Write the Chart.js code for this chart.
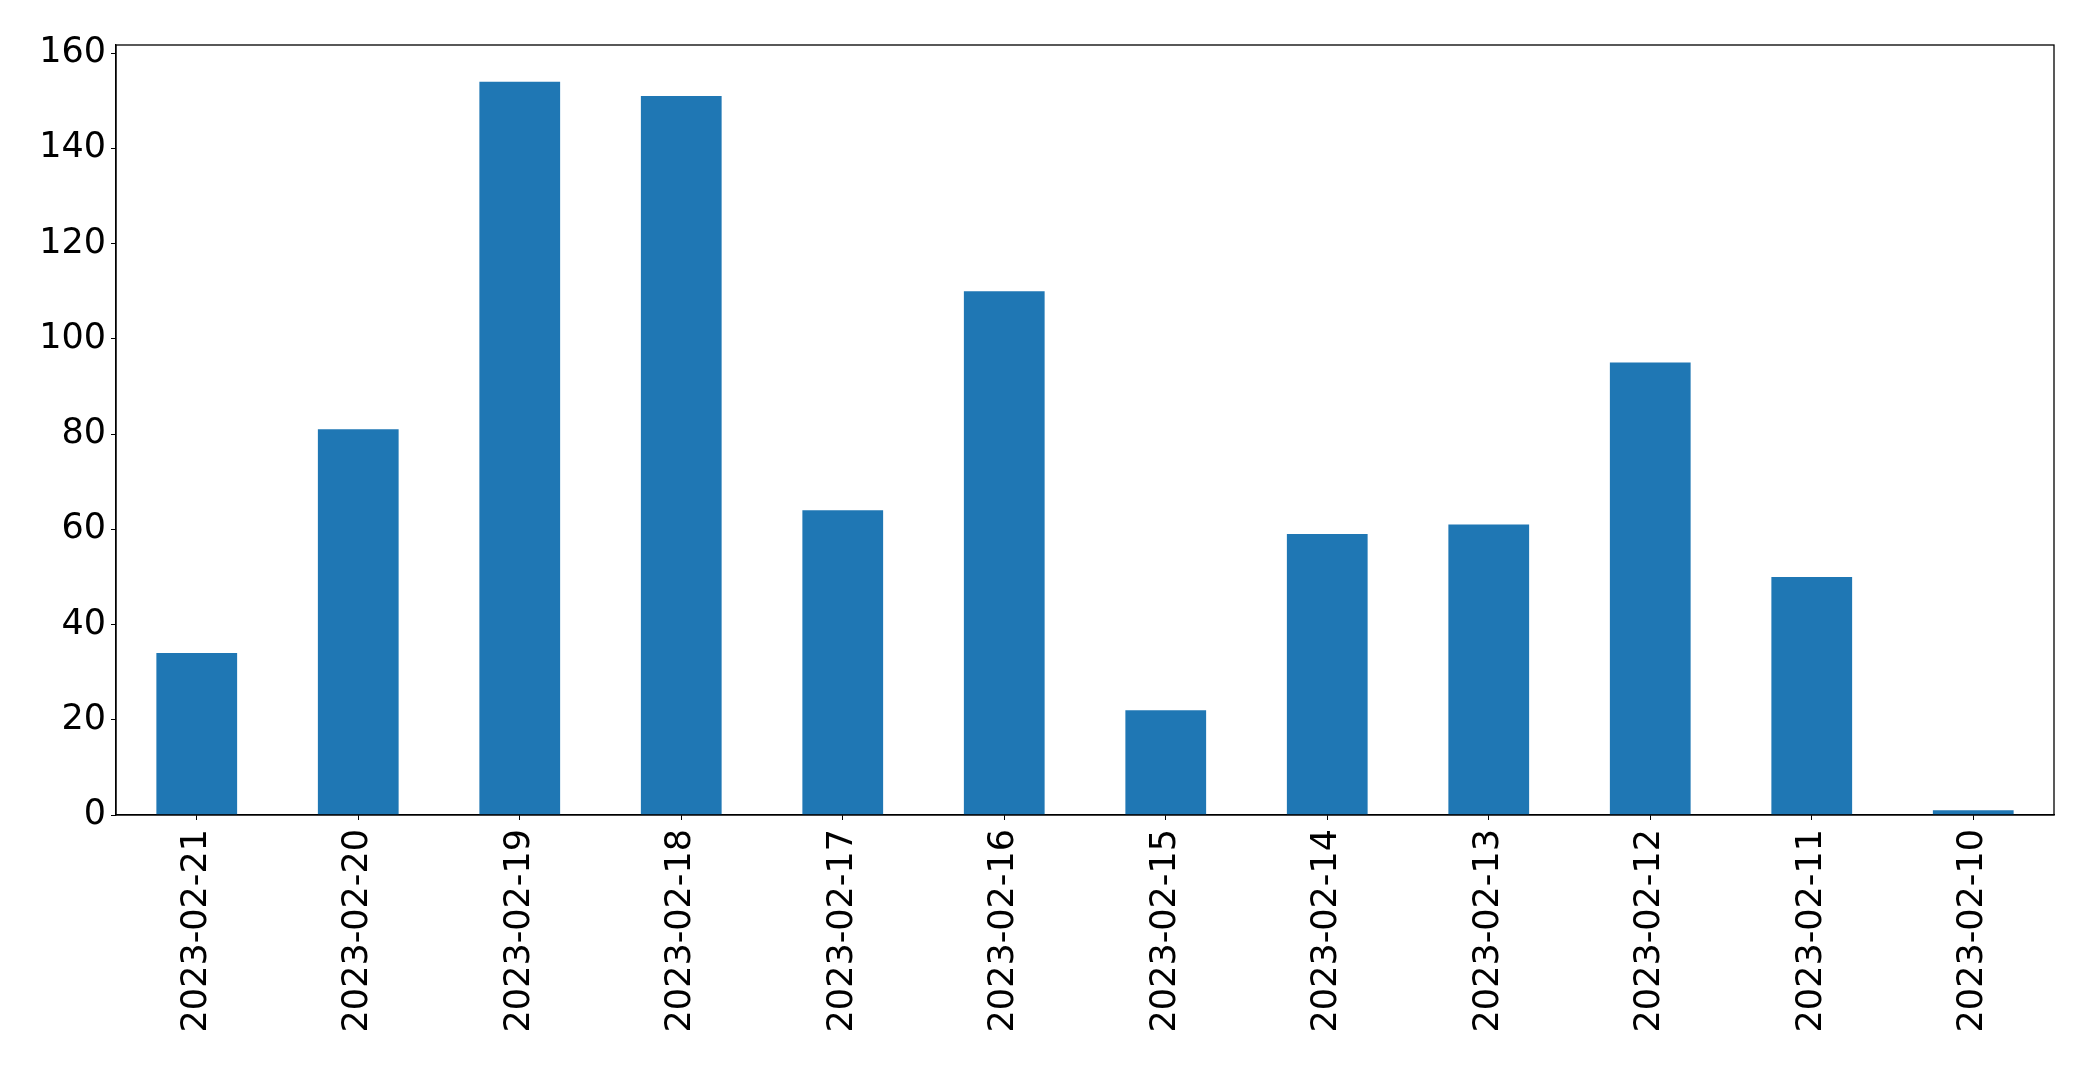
<!DOCTYPE html>
<html>
<head>
<meta charset="utf-8">
<script src="https://cdn.jsdelivr.net/npm/chart.js@4/dist/chart.umd.min.js"></script>
<style>
  html, body { margin: 0; padding: 0; background: #fff; }
  #wrap { width: 2093px; height: 1067px; }
</style>
</head>
<body>
<div id="wrap"><canvas id="myChart" width="2093" height="1067"></canvas></div>
<script>
var days = ["2023-02-21", "2023-02-20", "2023-02-19", "2023-02-18", "2023-02-17", "2023-02-16",
            "2023-02-15", "2023-02-14", "2023-02-13", "2023-02-12", "2023-02-11", "2023-02-10"];
var counts = [34, 81, 154, 151, 64, 110, 22, 59, 61, 95, 50, 1];
var yTicks = [0, 20, 40, 60, 80, 100, 120, 140, 160];

// top + right spines, like the matplotlib frame
var frame = {
  id: "frame",
  afterDraw: function(chart) {
    var a = chart.chartArea, c = chart.ctx;
    c.save();
    c.strokeStyle = "#000";
    c.lineWidth = 1.3;
    c.strokeRect(a.left, a.top, a.right - a.left, a.bottom - a.top);
    c.restore();
  }
};

Chart.defaults.font.family = "'DejaVu Sans', sans-serif";
Chart.defaults.color = "#000";

new Chart("myChart", {
  type: "bar",
  data: {
    labels: days,
    datasets: [{
      data: counts,
      backgroundColor: "#1f77b4",
      barPercentage: 0.5,
      categoryPercentage: 1.0
    }]
  },
  options: {
    responsive: false,
    animation: false,
    layout: { padding: { top: 45, right: 39, left: 0, bottom: 0 } },
    plugins: { legend: { display: false }, tooltip: { enabled: false } },
    scales: {
      x: {
        offset: true,
        grid: { display: true, drawOnChartArea: false, tickLength: 5, color: "#000", offset: false },
        border: { color: "#000", width: 1.3 },
        ticks: { font: { size: 35 }, minRotation: 90, maxRotation: 90, padding: 9 },
        afterFit: function(s) { s.height = 252; }
      },
      y: {
        min: 0,
        max: 161.7,
        grid: { display: true, drawOnChartArea: false, tickLength: 5, color: "#000" },
        border: { color: "#000", width: 1.3 },
        ticks: { font: { size: 35 }, padding: 5 },
        afterBuildTicks: function(s) {
          s.ticks = yTicks.map(function(v) { return { value: v }; });
        },
        afterFit: function(s) { s.width = 116; }
      }
    }
  },
  plugins: [frame]
});
</script>
</body>
</html>
